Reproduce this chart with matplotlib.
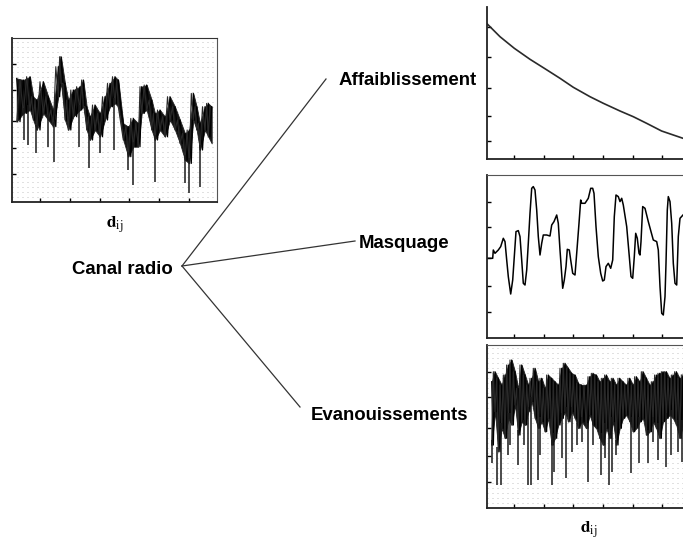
"""
Canal radio : affaiblissement, masquage et évanouissements en fonction de d_ij.
"""

import matplotlib
matplotlib.use("Agg")
import matplotlib.pyplot as plt
from matplotlib.lines import Line2D
from matplotlib.ticker import MultipleLocator

W, H = 683, 543

# --- signal global (gauche) : enveloppe haute / basse + creux ---
total_x = [4.7, 11.3, 18, 21.3, 24.7, 31.3, 36.3, 41.3, 46.3, 49, 53, 56.3, 61.3, 68,
           71.3, 74.7, 78, 83, 88, 93, 98, 103, 106.3, 111.3, 116.3, 121.3, 126.3,
           129.7, 134.7, 139.7, 143, 148, 153, 158, 163, 168, 173, 177.3, 181.3,
           184.7, 188, 193, 196.3, 199.7]
total_top = [123.3, 121.7, 125, 105, 101.7, 120, 105, 91.7, 135, 145, 118.3, 101.7,
             111.7, 115, 121.7, 95, 85, 96.7, 88.3, 105, 118.3, 125, 121.7, 78.3, 75,
             83.3, 78.3, 115, 116.7, 101.7, 88.3, 91.7, 85, 105, 95, 81.7, 68.3, 71.7,
             108.3, 95, 78.3, 95, 98.3, 95]
total_bot = [80, 88.3, 91.7, 81.7, 71.7, 88.3, 81.7, 75, 105, 118.3, 81.7, 71.7, 85,
             91.7, 95, 71.7, 61.7, 71.7, 65, 81.7, 95, 98.3, 95, 61.7, 45, 55, 55, 88.3,
             91.7, 71.7, 61.7, 71.7, 65, 81.7, 71.7, 58.3, 41.7, 38.3, 81.7, 71.7, 51.7,
             71.7, 65, 58.3]
total_dip_x = [12, 16.3, 24, 36.3, 42, 67, 77.3, 88, 102, 116.3, 121.3, 143, 173, 177.3, 188]
total_dip_y = [61.7, 56.7, 48.3, 55, 40, 55, 33.3, 48.3, 51.7, 31.7, 16.7, 20, 18.3, 8.3, 15]

# --- affaiblissement ---
path_x = [0, 12.7, 27, 42.7, 57, 72.7, 86, 102.7, 116, 132.7, 146, 159.3, 174.3, 186, 195.7]
path_y = [135, 122.3, 110.7, 99.7, 90.7, 80.7, 71.7, 62.3, 55.7, 48, 42.3, 35.7, 28, 24, 20.7]

# --- masquage ---
shadow_x = [0, 5.4, 6, 7.7, 11, 13.4, 16, 17.7, 19.4, 21, 23.4, 25.4, 27, 28.7, 31, 32.7,
            34.4, 36, 37.7, 39.4, 41, 42.7, 44.4, 46, 47.7, 49.4, 51, 52.7, 54.4, 56, 59.4,
            62.7, 64.4, 66.7, 69.4, 71, 72.7, 75.4, 77, 78.7, 80, 82, 83.4, 85.4, 87.7,
            89.4, 91.7, 93.4, 94.4, 97.7, 101, 103.4, 105.4, 106.7, 108.7, 111, 113.4,
            115.4, 117, 118.7, 121, 123.4, 125.4, 127, 128.7, 131, 132.7, 134.4, 136,
            139.4, 142, 143.7, 145.4, 147, 148.4, 150, 151.7, 152.7, 153.7, 155.4, 157.7,
            161, 163.7, 166, 169.4, 171, 172.7, 174.4, 176, 177.7, 178.7, 180, 181, 182.7,
            184.4, 186, 187.7, 189.4, 191, 192.7, 195.7]
shadow_y = [80, 80, 88.3, 85, 88.3, 91.7, 100, 96.7, 78.3, 61.7, 44.3, 58.3, 81.7, 106.7,
            107.7, 101.7, 78.3, 55, 53.3, 68.3, 95, 125, 150, 151.7, 148.3, 128.3, 101.7,
            83.3, 95, 103.3, 103.3, 102.3, 113.3, 116.7, 123.3, 115, 88.3, 50, 58.3, 71.7,
            89, 88.3, 78.3, 65, 63.3, 85, 115, 138.3, 135, 135, 140, 150, 150, 145, 111.7,
            81.7, 65, 57.3, 58.3, 71.7, 75, 70, 78.3, 121.7, 143.3, 141.7, 136.7, 140,
            133.3, 111.7, 81.7, 61.7, 60, 81.7, 105, 100, 85, 83.3, 96.7, 131.7, 130,
            116.7, 106.7, 98.3, 96.7, 88.3, 51.7, 25, 23.3, 41.7, 75, 128.3, 141.7, 136.7,
            115, 75, 55, 53.3, 101.7, 120, 123.3]

# --- évanouissements ---
fading_x = [4.4, 7.7, 11.0, 14.4, 17.7, 21.0, 24.4, 27.7, 31.0, 34.4, 37.7, 41.0, 44.4,
            47.7, 51.0, 54.4, 57.7, 61.0, 64.4, 67.7, 71.0, 74.4, 77.7, 81.0, 84.4, 87.7,
            91.0, 94.4, 99, 102.4, 105.7, 109, 112.4, 115.7, 119, 122.4, 125.7, 129,
            132.4, 135.7, 139, 142.4, 145.7, 149, 152.4, 155.7, 159, 162.4, 165.7, 169,
            172.4, 175.7, 179, 182.4, 185.7, 189, 192.4, 195.7]
fading_top = [126.6, 136.6, 130, 123.3, 133.3, 143.3, 148.3, 136.6, 120, 143.3, 133.3,
              123.3, 130, 140, 126.6, 130, 120, 133.3, 130, 126.6, 123.3, 140, 145, 140,
              135, 133.3, 125, 123.3, 123.3, 131.6, 135, 133.3, 126.6, 130, 133.3, 126.6,
              130, 123.3, 130, 126.6, 123.3, 130, 123.3, 131.6, 126.6, 136.6, 130, 123.3,
              126.6, 133.3, 135, 136.6, 136.6, 130, 133.3, 136.6, 130, 133.3]
fading_bot = [63.3, 96.6, 56.6, 80, 70, 90, 83.3, 103.3, 73.3, 86.6, 83.3, 96.6, 106.6,
              90, 80, 86.6, 76.6, 90, 63.3, 70, 83.3, 90, 96.6, 86.6, 96.6, 90, 80, 86.6,
              80, 93.3, 83.3, 80, 70, 63.3, 80, 70, 86.6, 63.3, 80, 90, 93.3, 86.6, 76.6,
              80, 86.6, 90, 73.3, 76.6, 86.6, 80, 70, 86.6, 90, 93.3, 90, 83.3, 70, 83.3]
fading_dip_x = [4.4, 10, 13.7, 20.4, 22.7, 30.4, 37, 41, 43.4, 50.4, 52.7, 64.4, 66.7,
                74.4, 78.4, 84.4, 89.4, 94.4, 100.7, 105.7, 114, 117.4, 121.7, 125, 129,
                144, 151.7, 160.7, 165.7, 170.7, 178.4, 184, 190.7, 195]
fading_dip_y = [45, 23.3, 23.3, 53.3, 63.3, 43.3, 63.3, 23.3, 23.3, 28.3, 53.3, 23.3,
                36.6, 50, 30, 56.6, 63.3, 66.6, 26.6, 63.3, 33.3, 50, 23.3, 36.6, 53.3,
                35, 45, 45, 66.6, 48.3, 41.6, 53.3, 56.6, 46.6]

left_xticks = [28, 57.8, 87.6, 117.4, 147.2, 177]
left_yticks = [27.7, 53.4, 81, 111.7, 137.4]
right_xticks = [27, 57, 86, 116, 146, 174.3]
path_yticks = [17.7, 43, 70.7, 101.7, 131.7]
shadow_yticks = [26.6, 52.3, 80, 111, 136.6]
fading_yticks = [26.6, 52.3, 80, 111.6, 136]


def fig_box(x0, y_top, x1, y_bot):
    """pixel box -> fraction of figure"""
    return [x0 / W, 1 - y_bot / H, (x1 - x0) / W, (y_bot - y_top) / H]


def fig_pt(x, y):
    return x / W, 1 - y / H


def style_axes(ax, xticks, yticks, height, dotted=False, top_color="#333333"):
    ax.set_xlim(0, 205.3)
    ax.set_ylim(0, height)
    ax.set_xticks(xticks)
    ax.set_yticks(yticks)
    ax.set_xticklabels([])
    ax.set_yticklabels([])
    ax.tick_params(direction="in", length=3.2, width=1, color="black",
                   top=False, right=False)
    for side in ("left", "bottom"):
        ax.spines[side].set_linewidth(1.3)
        ax.spines[side].set_color("#222222")
    ax.spines["top"].set_color(top_color)
    ax.spines["right"].set_color("#555555")
    if dotted:
        ax.yaxis.set_minor_locator(MultipleLocator(5))
        ax.tick_params(which="minor", length=0)
        ax.grid(which="minor", axis="y", color="#c4c4c4", linestyle=(0, (1, 4)),
                linewidth=0.72)
        ax.set_axisbelow(True)


def draw_band(ax, x, top, bot, dip_x, dip_y, dip_base):
    ax.fill_between(x, bot, top, color="#141414", linewidth=0.6, edgecolor="#222222")
    # tracé en dents de scie entre enveloppe haute et basse
    zx, zy = [], []
    for i in range(len(x) - 1):
        zx += [x[i], (x[i] + x[i + 1]) / 2]
        zy += [top[i], bot[i]]
    zx.append(x[-1])
    zy.append(top[-1])
    ax.plot(zx, zy, color="black", linewidth=0.9)
    zx2, zy2 = [], []
    for i in range(len(x) - 1):
        zx2 += [x[i], (x[i] + x[i + 1]) / 2]
        zy2 += [bot[i], top[i + 1]]
    ax.plot(zx2, zy2, color="#2a2a2a", linewidth=0.8)
    ax.vlines(dip_x, dip_y, dip_base, color="#1a1a1a", linewidth=1.1)


def main():
    fig = plt.figure(figsize=(W / 100, H / 100), dpi=100)
    fig.patch.set_facecolor("white")

    # signal global
    ax0 = fig.add_axes(fig_box(12, 38, 217.3, 201.7))
    style_axes(ax0, left_xticks, left_yticks, 163.7, dotted=True)
    dip_base0 = [total_bot[min(range(len(total_x)), key=lambda i: abs(total_x[i] - d))] + 5
                 for d in total_dip_x]
    draw_band(ax0, total_x, total_top, total_bot, total_dip_x, total_dip_y, dip_base0)

    # affaiblissement
    ax1 = fig.add_axes(fig_box(487.3, 7, 692.6, 159))
    style_axes(ax1, right_xticks, path_yticks, 152)
    ax1.spines["top"].set_visible(False)
    ax1.plot(path_x, path_y, color="#2a2a2a", linewidth=1.2)

    # masquage
    ax2 = fig.add_axes(fig_box(487.3, 174.7, 692.6, 338.3))
    style_axes(ax2, right_xticks, shadow_yticks, 163.6, top_color="#555555")
    ax2.plot(shadow_x, shadow_y, color="black", linewidth=1.1)

    # évanouissements
    ax3 = fig.add_axes(fig_box(487.3, 345, 692.6, 508.3))
    style_axes(ax3, right_xticks, fading_yticks, 163.3, dotted=True, top_color="#555555")
    dip_base3 = [fading_bot[min(range(len(fading_x)), key=lambda i: abs(fading_x[i] - d))] + 5
                 for d in fading_dip_x]
    draw_band(ax3, fading_x, fading_top, fading_bot, fading_dip_x, fading_dip_y, dip_base3)

    # libellés
    lab = dict(fontsize=13.4, fontweight="bold", family=["Liberation Sans", "DejaVu Sans"],
               color="black", va="baseline", transform=fig.transFigure)
    fig.text(*fig_pt(122.5, 274), "Canal radio", ha="center", **lab)
    fig.text(*fig_pt(408, 85), "Affaiblissement", ha="center", **lab)
    fig.text(*fig_pt(404, 248.5), "Masquage", ha="center", **lab)
    fig.text(*fig_pt(389.5, 419.5), "Evanouissements", ha="center", **lab)

    plt.rcParams["mathtext.fontset"] = "stix"
    for cx, by in ((114.5, 228), (588.5, 533)):
        fig.text(*fig_pt(cx, by), r"$\mathbf{d}_{\mathrm{ij}}$", ha="center",
                 va="baseline", fontsize=12.5, transform=fig.transFigure)

    # branches
    apex = (182, 266)
    for end in ((326, 79), (355, 241), (300, 407)):
        xs, ys = zip(fig_pt(*apex), fig_pt(*end))
        fig.add_artist(Line2D(xs, ys, color="#333333", linewidth=0.9,
                              transform=fig.transFigure))

    fig.savefig("out.png", dpi=100)
    plt.close(fig)


if __name__ == "__main__":
    main()
